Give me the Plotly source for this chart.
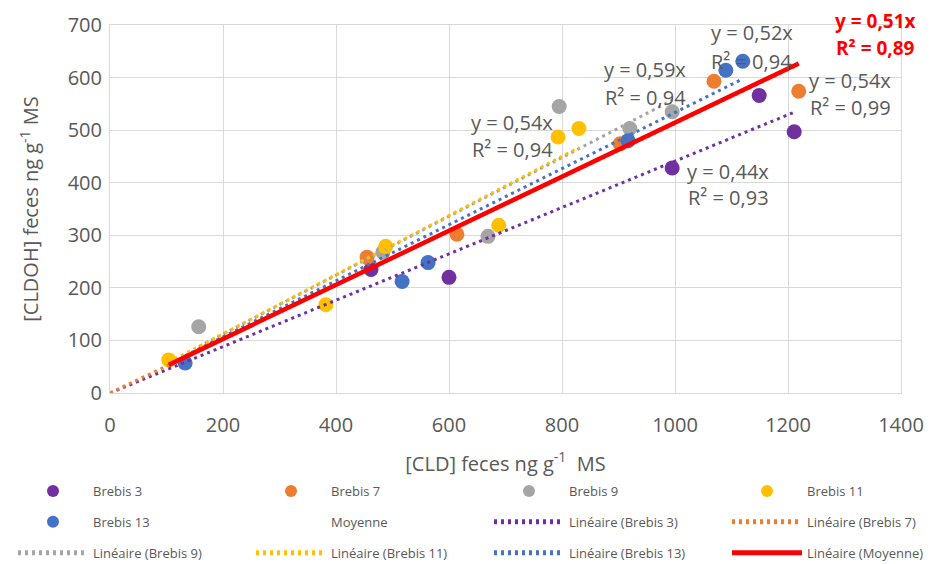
import numpy as np
import plotly.graph_objects as go

# ---- data ----
b3_x = [462, 600, 995, 1149, 1211]
b3_y = [235, 220, 428, 566, 497]
b7_x = [455, 614, 903, 1069, 1219]
b7_y = [258, 302, 474, 593, 574]
b9_x = [157, 483, 669, 795, 920, 995]
b9_y = [126, 268, 298, 545, 503, 535]
b11_x = [104, 382, 488, 688, 793, 830]
b11_y = [63, 168, 279, 319, 487, 503]
b13_x = [133, 517, 563, 917, 1090, 1120]
b13_y = [57, 212, 248, 480, 614, 631]

series_names = ["Brebis 3", "Brebis 7", "Brebis 9", "Brebis 11", "Brebis 13"]
eq_labels = ["y = 0,44x", "y = 0,54x", "y = 0,59x", "y = 0,54x", "y = 0,52x"]
r2_labels = ["R² = 0,93", "R² = 0,99", "R² = 0,94", "R² = 0,94", "R² = 0,94"]
moy_eq = "y = 0,51x"
moy_r2 = "R² = 0,89"

# Moyenne = all points pooled (no markers shown)
moy_x = b3_x + b7_x + b9_x + b11_x + b13_x
moy_y = b3_y + b7_y + b9_y + b11_y + b13_y

# ---- styling ----
colors = ["#7030A0", "#ED7D31", "#A5A5A5", "#FFC000", "#4472C4"]
trend_from_zero = [True, True, False, False, False]
label_pos = [  # (x, y_eq, y_r2) in data units
    (1094, 422, 371),
    (1310, 595, 544),
    (947, 616, 563),
    (712, 515, 464),
    (1136, 685, 630),
]

xs = [b3_x, b7_x, b9_x, b11_x, b13_x]
ys = [b3_y, b7_y, b9_y, b11_y, b13_y]

FONT = "Open Sans"
TXT = "#595959"
GRID = "#D9D9D9"

# plot-area pixel geometry inside the browser window
PX0, PX1, PY0, PY1 = 110.0, 901.0, 25.0, 393.0
PW, PH = PX1 - PX0, PY1 - PY0
OFF = 8  # page body margin


def xp(px):
    return (px - PX0) / PW


def yp(py):
    return (PY1 - py) / PH


fig = go.Figure()

# legend columns: legend (col1), legend2 (col2), legend3 (col3), legend4 (col4)
marker_leg = ["legend", "legend2", "legend3", "legend4", "legend"]
for i in range(5):
    fig.add_trace(go.Scatter(
        x=xs[i], y=ys[i], mode="markers", name=series_names[i],
        marker=dict(color=colors[i], size=15, line=dict(width=0)),
        legend=marker_leg[i], legendgroup=f"m{i}",
    ))
fig.add_trace(go.Scatter(
    x=moy_x, y=moy_y, mode="markers", name="Moyenne",
    marker=dict(color="rgba(0,0,0,0)", size=15), legend="legend2", legendgroup="m5",
))

line_leg = ["legend3", "legend4", "legend", "legend2", "legend3"]
for i in range(5):
    x = np.array(xs[i], float)
    y = np.array(ys[i], float)
    slope = (x * y).sum() / (x * x).sum()
    x0 = 0.0 if trend_from_zero[i] else x.min()
    tx = [x0, x.max()]
    fig.add_trace(go.Scatter(
        x=tx, y=[slope * v for v in tx], mode="lines",
        name=f"Linéaire ({series_names[i]})",
        line=dict(color=colors[i], width=3, dash="3px,4px"),
        legend=line_leg[i], legendgroup=f"l{i}",
    ))

mx = np.array(moy_x, float)
my = np.array(moy_y, float)
mslope = (mx * my).sum() / (mx * mx).sum()
mtx = [mx.min(), mx.max()]
fig.add_trace(go.Scatter(
    x=mtx, y=[mslope * v for v in mtx], mode="lines",
    name="Linéaire (Moyenne)", line=dict(color="#FF0000", width=4.5),
    legend="legend4", legendgroup="l5",
))

# equation labels
for i in range(5):
    lx, ly1, ly2 = label_pos[i]
    for txt, yy in ((eq_labels[i], ly1), (r2_labels[i], ly2)):
        fig.add_annotation(x=lx, y=yy, xref="x", yref="y", text=txt,
                           xanchor="center", yanchor="middle",
                           showarrow=False, font=dict(family=FONT, size=20, color=TXT))
for txt, py in ((moy_eq, 21), (moy_r2, 48)):
    fig.add_annotation(x=xp(875), y=yp(py), xref="paper", yref="paper",
                       xanchor="center", yanchor="middle", borderpad=0,
                       text=f"<b>{txt}</b>", showarrow=False,
                       font=dict(family=FONT, size=19, color="#FF0000"))

leg_common = dict(orientation="v", itemwidth=70, itemsizing="constant",
                  xanchor="left", yanchor="top", tracegroupgap=11,
                  font=dict(family=FONT, size=13, color=TXT),
                  bgcolor="rgba(0,0,0,0)", borderwidth=0)
LEG_TOP = 476
col_starts = [13, 251, 489, 727]

fig.update_layout(
    width=933 - OFF, height=564 - OFF,
    margin=dict(l=PX0 - OFF, r=(933 - OFF) - (PX1 - OFF), t=PY0 - OFF,
                b=(564 - OFF) - (PY1 - OFF), autoexpand=False),
    paper_bgcolor="white", plot_bgcolor="white",
    font=dict(family=FONT, color=TXT),
    showlegend=True,
    legend=dict(x=xp(col_starts[0]), y=yp(LEG_TOP), **leg_common),
    legend2=dict(x=xp(col_starts[1]), y=yp(LEG_TOP), **leg_common),
    legend3=dict(x=xp(col_starts[2]), y=yp(LEG_TOP), **leg_common),
    legend4=dict(x=xp(col_starts[3]), y=yp(LEG_TOP), **leg_common),
    xaxis=dict(range=[0, 1400], dtick=200, showgrid=True, gridcolor=GRID, gridwidth=1,
               showline=True, linecolor=GRID, linewidth=1, mirror=True, zeroline=False,
               ticks="", tickfont=dict(family=FONT, size=20, color=TXT), ticklabelstandoff=14,
               title=dict(text="[CLD] feces ng g<sup>-1</sup>  MS", standoff=19,
                          font=dict(family=FONT, size=20, color=TXT)),
               automargin=False),
    yaxis=dict(range=[0, 700], dtick=100, showgrid=True, gridcolor=GRID, gridwidth=1,
               showline=True, linecolor=GRID, linewidth=1, mirror=True, zeroline=False,
               ticks="", tickfont=dict(family=FONT, size=20, color=TXT), ticklabelstandoff=3,
               title=dict(text="[CLDOH] feces ng g<sup>-1</sup> MS", standoff=23,
                          font=dict(family=FONT, size=20, color=TXT)),
               automargin=False),
)

fig.write_html("out.html")
